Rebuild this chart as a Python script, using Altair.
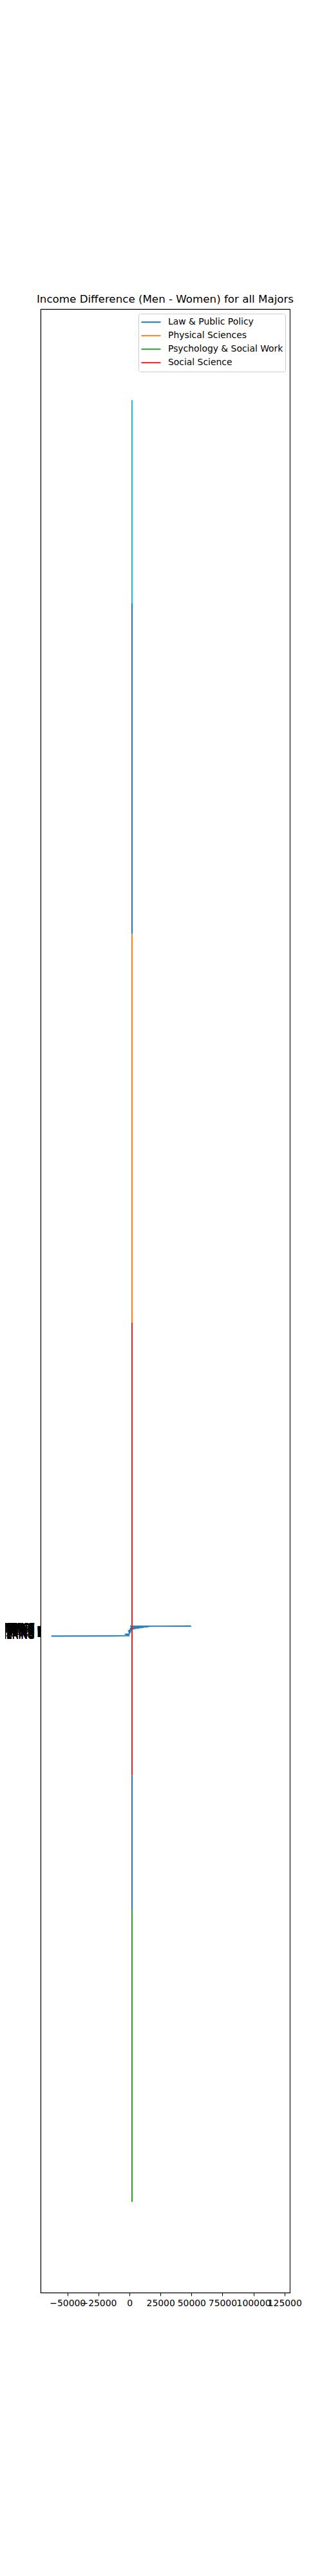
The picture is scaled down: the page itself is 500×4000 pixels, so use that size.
import json
import altair as alt
import pandas as pd

TITLE = "Income Difference (Men - Women) for all Majors"

# y categories (majors), their category positions and the plotted difference
majors = [
    "PETROLEUM ENGINEERING", "MINING AND MINERAL ENGINEERING", "METALLURGICAL ENGINEERING",
    "NAVAL ARCHITECTURE AND MARINE ENGINEERING", "CHEMICAL ENGINEERING", "NUCLEAR ENGINEERING",
    "ACTUARIAL SCIENCE", "ASTRONOMY AND ASTROPHYSICS", "MECHANICAL ENGINEERING",
    "ELECTRICAL ENGINEERING", "COMPUTER ENGINEERING", "AEROSPACE ENGINEERING",
    "BIOMEDICAL ENGINEERING", "MATERIALS SCIENCE", "ENGINEERING MECHANICS PHYSICS AND SCIENCE",
    "BIOLOGICAL ENGINEERING", "INDUSTRIAL AND MANUFACTURING ENGINEERING", "GENERAL ENGINEERING",
    "ARCHITECTURAL ENGINEERING", "COURT REPORTING", "COMPUTER SCIENCE", "FOOD SCIENCE",
    "ELECTRICAL ENGINEERING TECHNOLOGY", "MATERIALS ENGINEERING AND MATERIALS SCIENCE",
    "MANAGEMENT INFORMATION SYSTEMS AND STATISTICS", "CIVIL ENGINEERING", "CONSTRUCTION SERVICES",
    "OPERATIONS LOGISTICS AND E-COMMERCE", "MISCELLANEOUS ENGINEERING", "PUBLIC POLICY",
    "ENVIRONMENTAL ENGINEERING",
]
major_pos = [0, 3, 7, 20, 33, 37, 50, 62, 72, 80, 88, 96, 104, 110, 116, 120, 124, 128, 131,
             135, 139, 142, 146, 150, 153, 157, 161, 164, 167, 170, 172]
major_diff = [-63000, -12800, -400, -600, -3800, -300, 200, -300, 800, -200, 600, -300, 900, 0,
              2500, 300, 3800, 4900, 500, 6500, 8000, 800, 9500, 11300, 1000, 13500, 15300, 1500,
              17000, 500, 49700]

# category names and colours
legend_names = ["Law & Public Policy", "Physical Sciences", "Psychology & Social Work", "Social Science"]
other_names = ["Interdisciplinary"]
palette = ["#1f77b4", "#ff7f0e", "#2ca02c", "#d62728", "#17becf"]

# vertical segments
seg_series = ["Interdisciplinary", "Law & Public Policy", "Physical Sciences", "Social Science",
              "Law & Public Policy", "Psychology & Social Work"]
seg_id = ["a", "b", "c", "d", "e", "f"]
seg_x = [2050, 2050, 2050, 2050, 2050, 2050]
seg_top = [21300, 17800, 12100, 5400, -2400, -4700]
seg_bottom = [17800, 12100, 5400, -2400, -4700, -9750]

x_ticks = [-50000, -25000, 0, 25000, 50000, 75000, 100000, 125000]
x_domain = [-71700, 129300]
y_domain = [-11315, 22869]

df_c = pd.DataFrame({
    "major": majors, "pos": major_pos, "diff": major_diff,
    "series": ["Law & Public Policy"] * len(majors), "idx": list(range(len(majors))),
})
df_s = pd.DataFrame({"series": seg_series, "seg": seg_id, "x": seg_x,
                     "top": seg_top, "bottom": seg_bottom})

label_expr = "{}[indexof({}, datum.value)]".format(json.dumps(majors), json.dumps(major_pos))

xscale = alt.Scale(domain=x_domain, nice=False, zero=False)
yscale = alt.Scale(domain=y_domain, nice=False, zero=False)
xaxis = alt.Axis(values=x_ticks, format="d", labelOverlap=False, labelFlush=False, title=None)
yaxis = alt.Axis(values=major_pos, labelExpr=label_expr, labelLimit=400, labelOverlap=False,
                 title=None)

color = alt.Color("series:N",
                  scale=alt.Scale(domain=legend_names + other_names, range=palette),
                  legend=alt.Legend(values=legend_names, title=None))

cluster = alt.Chart(df_c).mark_line(strokeWidth=1.8, clip=True).encode(
    x=alt.X("diff:Q", scale=xscale, axis=xaxis),
    y=alt.Y("pos:Q", scale=yscale, axis=yaxis),
    order="idx:Q",
    color=color,
)

segs = alt.Chart(df_s).mark_rule(strokeWidth=2).encode(
    x=alt.X("x:Q", scale=xscale, axis=xaxis),
    y=alt.Y("top:Q", scale=yscale, axis=yaxis),
    y2="bottom:Q",
    color=color,
    detail="seg:N",
)

chart = alt.layer(cluster, segs).properties(
    width=387,
    height=3080,
    autosize=alt.AutoSizeParams(type="none"),
    padding={"left": 55, "top": 472, "right": 35, "bottom": 40},
    title=alt.TitleParams(TITLE, fontSize=16.7, font="DejaVu Sans", fontWeight="normal",
                          color="black", anchor="middle", offset=6),
).configure(font="DejaVu Sans").configure_view(
    stroke="black", strokeWidth=1.1
).configure_axis(
    domainColor="black", domainWidth=1.1, tickColor="black", tickWidth=1.1, tickSize=4.9,
    labelPadding=4.9, labelFontSize=13.9, labelColor="black", labelFont="DejaVu Sans", grid=False,
).configure_legend(
    orient="top-right", offset=7, padding=3, fillColor="white", strokeColor="#cccccc",
    cornerRadius=3, symbolType="stroke", symbolSize=900, symbolStrokeWidth=2.08,
    labelFontSize=13.9, labelFont="DejaVu Sans", labelColor="black", labelOffset=10,
    clipHeight=20.6, rowPadding=0, labelLimit=300,
)

chart.save("out.html", embed_options={"renderer": "svg", "actions": False})
